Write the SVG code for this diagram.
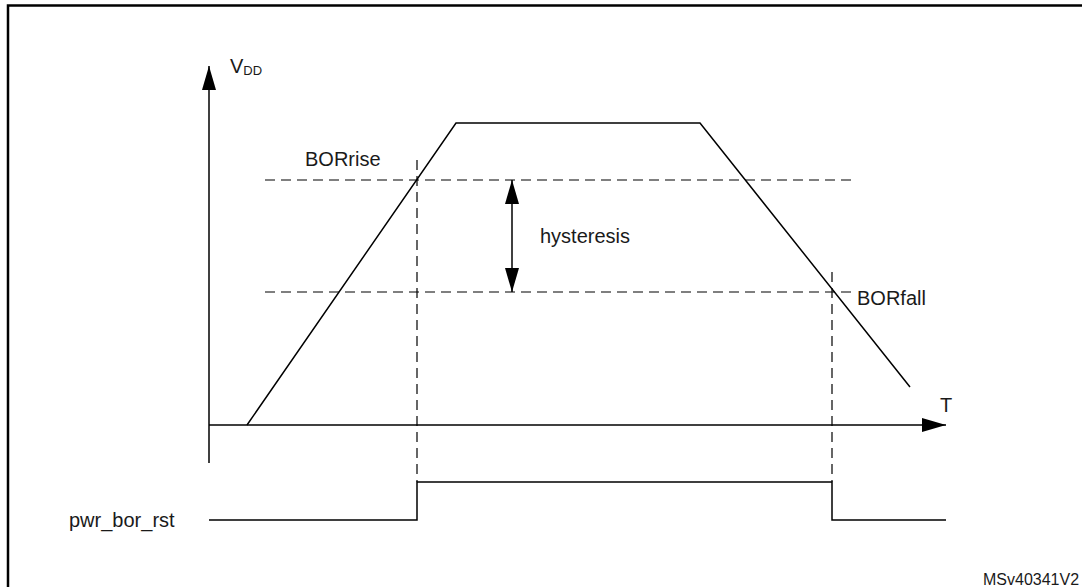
<svg xmlns="http://www.w3.org/2000/svg" width="1082" height="587" viewBox="0 0 1082 587">
<defs>
<marker id="ah" viewBox="0 0 24 14" refX="24" refY="7" markerWidth="24" markerHeight="14" markerUnits="userSpaceOnUse" orient="auto-start-reverse">
<path d="M0,0 L24,7 L0,14 Z" fill="#000"/>
</marker>
</defs>
<style>
.t{font-family:"Liberation Sans",Arial,sans-serif;font-size:20px;fill:#1a1a1a}
.ln{stroke:#000;stroke-width:1.5;fill:none}
.ds{stroke:#000;stroke-width:1.2;fill:none;stroke-dasharray:10,6}
</style>
<rect x="8" y="5.5" width="1100" height="600" fill="#fff" stroke="#000" stroke-width="2.5"/>
<g id="axes">
<line class="ln" x1="209" y1="463" x2="209" y2="66" marker-end="url(#ah)"/>
<line class="ln" x1="209" y1="425" x2="946" y2="425" marker-end="url(#ah)"/>
<text class="t" x="230" y="73">V<tspan font-size="13" dy="2">DD</tspan></text>
<text class="t" x="940" y="412">T</text>
</g>
<g id="thresholds">
<line class="ds" x1="265" y1="180" x2="852" y2="180"/>
<line class="ds" x1="265" y1="292" x2="852" y2="292"/>
<text class="t" x="305" y="166">BORrise</text>
<text class="t" x="857" y="305">BORfall</text>
</g>
<g id="markers">
<line class="ds" x1="417" y1="160" x2="417" y2="482"/>
<line class="ds" x1="832" y1="272" x2="832" y2="482"/>
</g>
<g id="vdd-curve">
<polyline class="ln" points="247,425 456,123 700,123 910,387"/>
</g>
<g id="hysteresis">
<line class="ln" x1="512" y1="180" x2="512" y2="292" marker-start="url(#ah)" marker-end="url(#ah)"/>
<text class="t" x="540" y="243">hysteresis</text>
</g>
<g id="pwr_bor_rst">
<polyline class="ln" points="209,520 417,520 417,482 832,482 832,520 946,520"/>
<text class="t" x="69" y="527">pwr_bor_rst</text>
</g>
<text x="983" y="585" style="font-family:'Liberation Sans',Arial,sans-serif;font-size:16px;fill:#1a1a1a">MSv40341V2</text>
</svg>
